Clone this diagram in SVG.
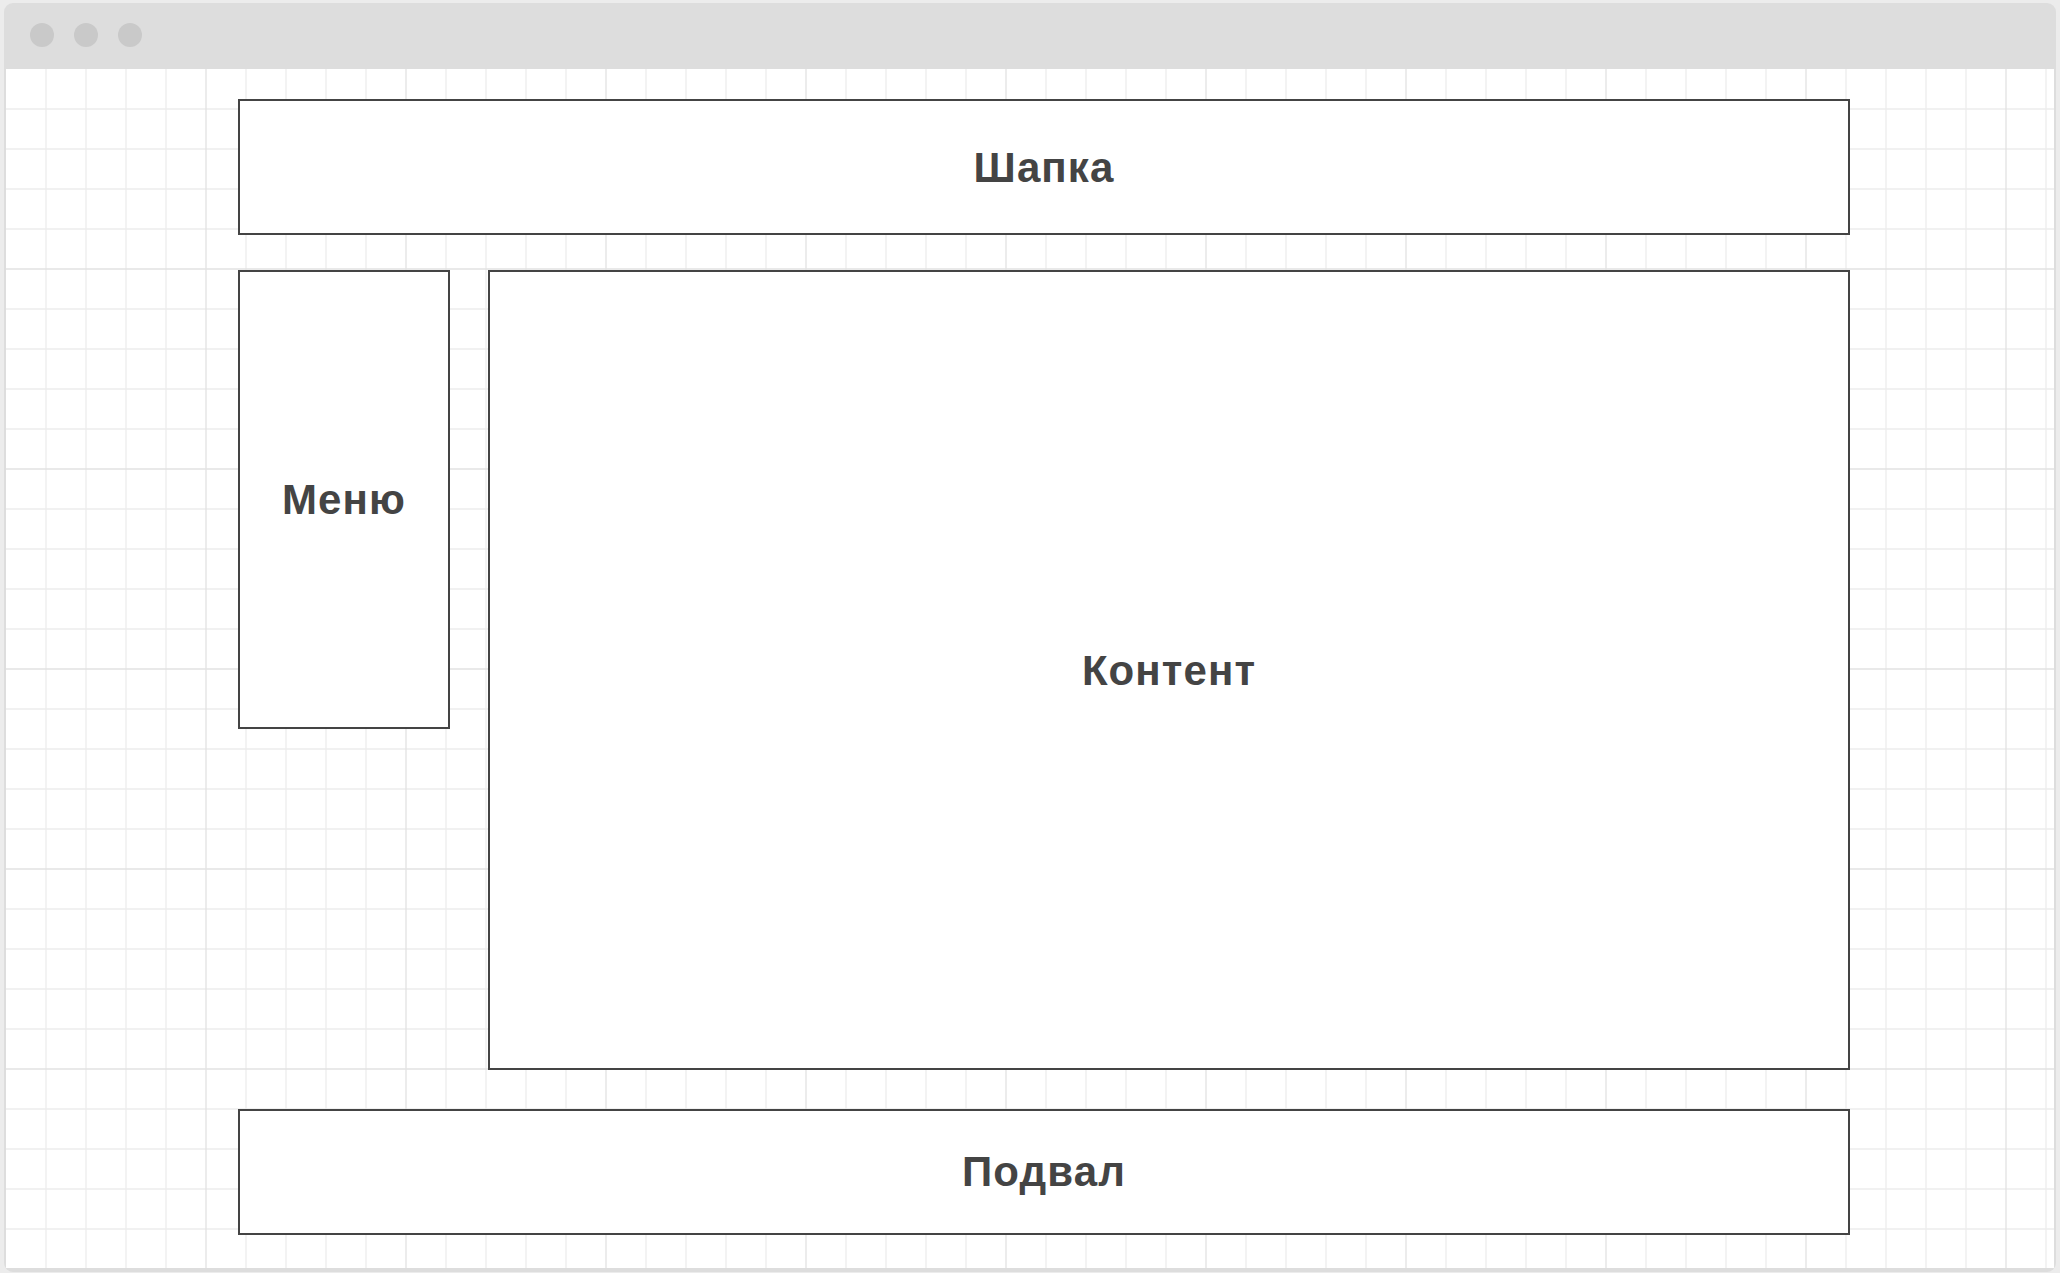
<svg xmlns="http://www.w3.org/2000/svg" width="2060" height="1273" viewBox="0 0 2060 1273">
  <style>
    .minor { stroke: #ededed; stroke-width: 1.3; }
    .major { stroke: #e2e2e2; stroke-width: 1.3; }
    .box { fill: #ffffff; stroke: #444444; stroke-width: 2; }
    .label { font-family: "Liberation Sans", Arial, sans-serif; font-weight: bold; font-size: 42px; letter-spacing: 1.1px; fill: #444444; text-anchor: middle; }
    .dot { fill: #c9c9c9; }
  </style>
  <rect x="0" y="0" width="2060" height="1273" fill="#ececec"/>
  <g id="window">
    <rect x="4" y="3" width="2052" height="1269" rx="9" ry="9" fill="#dddddd"/>
    <rect x="6" y="69" width="2048" height="1199" fill="#ffffff"/>
    <circle class="dot" cx="42" cy="35" r="12"/>
    <circle class="dot" cx="86" cy="35" r="12"/>
    <circle class="dot" cx="130" cy="35" r="12"/>
  </g>
  <g id="grid">
    <path class="minor" d="M46,69V1268M86,69V1268M126,69V1268M166,69V1268M246,69V1268M286,69V1268M326,69V1268M366,69V1268M446,69V1268M486,69V1268M526,69V1268M566,69V1268M646,69V1268M686,69V1268M726,69V1268M766,69V1268M846,69V1268M886,69V1268M926,69V1268M966,69V1268M1046,69V1268M1086,69V1268M1126,69V1268M1166,69V1268M1246,69V1268M1286,69V1268M1326,69V1268M1366,69V1268M1446,69V1268M1486,69V1268M1526,69V1268M1566,69V1268M1646,69V1268M1686,69V1268M1726,69V1268M1766,69V1268M1846,69V1268M1886,69V1268M1926,69V1268M1966,69V1268M2046,69V1268"/>
    <path class="minor" d="M6,109H2054M6,149H2054M6,189H2054M6,229H2054M6,309H2054M6,349H2054M6,389H2054M6,429H2054M6,509H2054M6,549H2054M6,589H2054M6,629H2054M6,709H2054M6,749H2054M6,789H2054M6,829H2054M6,909H2054M6,949H2054M6,989H2054M6,1029H2054M6,1109H2054M6,1149H2054M6,1189H2054M6,1229H2054"/>
    <path class="major" d="M206,69V1268M406,69V1268M606,69V1268M806,69V1268M1006,69V1268M1206,69V1268M1406,69V1268M1606,69V1268M1806,69V1268M2006,69V1268"/>
    <path class="major" d="M6,269H2054M6,469H2054M6,669H2054M6,869H2054M6,1069H2054"/>
  </g>
  <g id="header">
    <rect class="box" x="239" y="100" width="1610" height="134"/>
    <text class="label" x="1044" y="182">Шапка</text>
  </g>
  <g id="menu">
    <rect class="box" x="239" y="271" width="210" height="457"/>
    <text class="label" x="344" y="514">Меню</text>
  </g>
  <g id="content">
    <rect class="box" x="489" y="271" width="1360" height="798"/>
    <text class="label" x="1169" y="685">Контент</text>
  </g>
  <g id="footer">
    <rect class="box" x="239" y="1110" width="1610" height="124"/>
    <text class="label" x="1044" y="1186">Подвал</text>
  </g>
  <g id="connectors"/>
</svg>
